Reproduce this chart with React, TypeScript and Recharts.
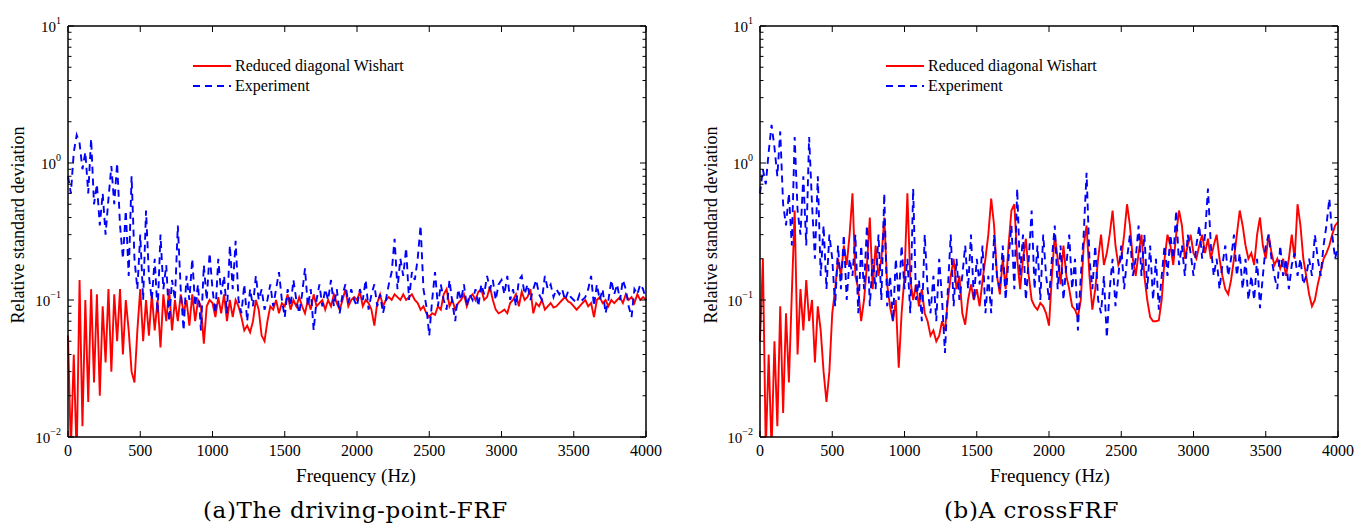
import React from 'react';
import { LineChart, Line, XAxis, YAxis, Legend } from 'recharts';

// samples every 20 Hz, 0..4000 Hz (10 values per row = 200 Hz)
const FREQ_STEP_HZ = 20;

// (a) driving-point FRF
const drivingWishart = [
  0.055, 0.008, 0.04, 0.007, 0.14, 0.012, 0.1, 0.018, 0.12, 0.025,
  0.11, 0.02, 0.09, 0.035, 0.12, 0.03, 0.11, 0.05, 0.12, 0.04,
  0.1, 0.06, 0.03, 0.025, 0.06, 0.12, 0.05, 0.1, 0.055, 0.11,
  0.06, 0.1, 0.045, 0.11, 0.07, 0.12, 0.06, 0.1, 0.07, 0.11,
  0.08, 0.1, 0.065, 0.11, 0.07, 0.1, 0.09, 0.048, 0.09, 0.1,
  0.095, 0.075, 0.105, 0.08, 0.11, 0.07, 0.1, 0.075, 0.1, 0.09,
  0.075, 0.06, 0.065, 0.058, 0.07, 0.1, 0.085, 0.055, 0.05, 0.07,
  0.09, 0.085, 0.1, 0.08, 0.095, 0.09, 0.11, 0.085, 0.1, 0.09,
  0.105, 0.09, 0.08, 0.1, 0.085, 0.11, 0.09, 0.095, 0.1, 0.085,
  0.1, 0.09, 0.11, 0.095, 0.085, 0.1, 0.12, 0.09, 0.1, 0.105,
  0.1, 0.115, 0.09, 0.1, 0.095, 0.085, 0.065, 0.095, 0.11, 0.09,
  0.1, 0.105, 0.1, 0.11, 0.105, 0.1, 0.11, 0.1, 0.105, 0.11,
  0.1, 0.095, 0.085, 0.09, 0.08, 0.075, 0.08, 0.078, 0.09, 0.085,
  0.11, 0.12, 0.09, 0.1, 0.085, 0.095, 0.1, 0.11, 0.09, 0.105,
  0.11, 0.1, 0.115, 0.12, 0.1, 0.105, 0.125, 0.1, 0.085, 0.08,
  0.082, 0.085, 0.08, 0.095, 0.1, 0.11, 0.09, 0.115, 0.1, 0.105,
  0.12, 0.08, 0.095, 0.09, 0.1, 0.085, 0.09, 0.095, 0.088, 0.09,
  0.095, 0.1, 0.105, 0.098, 0.095, 0.09, 0.085, 0.09, 0.095, 0.1,
  0.09, 0.095, 0.075, 0.1, 0.105, 0.095, 0.1, 0.09, 0.1, 0.095,
  0.1, 0.105, 0.095, 0.11, 0.1, 0.105, 0.095, 0.11, 0.1, 0.105,
  0.1,
];
const drivingExperiment = [
  0.8, 0.6, 1.2, 1.6, 1.4, 0.9, 1.2, 0.6, 1.5, 0.5,
  0.7, 0.35, 0.6, 0.3, 0.55, 0.95, 0.5, 1.0, 0.35, 0.2,
  0.45, 0.15, 0.8, 0.2, 0.12, 0.3, 0.1, 0.45, 0.15, 0.1,
  0.2, 0.08, 0.3, 0.12, 0.18, 0.07, 0.14, 0.1, 0.35, 0.12,
  0.06, 0.15, 0.1, 0.2, 0.09, 0.13, 0.06, 0.18, 0.1, 0.22,
  0.12, 0.08, 0.2, 0.11, 0.15, 0.08, 0.25, 0.12, 0.27, 0.1,
  0.08, 0.13, 0.07, 0.12, 0.09, 0.15, 0.1, 0.12, 0.085, 0.1,
  0.13, 0.09, 0.12, 0.16, 0.1, 0.075, 0.12, 0.09, 0.14, 0.1,
  0.08, 0.11, 0.17, 0.09, 0.12, 0.06, 0.1, 0.13, 0.09, 0.12,
  0.1, 0.14, 0.09, 0.12, 0.08, 0.11, 0.13, 0.095, 0.12, 0.1,
  0.09, 0.12, 0.1, 0.14, 0.085, 0.11, 0.13, 0.09, 0.11, 0.08,
  0.1, 0.13, 0.16, 0.28, 0.12, 0.2, 0.15, 0.24, 0.1, 0.16,
  0.14, 0.2, 0.35, 0.12, 0.09, 0.055, 0.1, 0.16, 0.09, 0.13,
  0.1, 0.085, 0.14, 0.095, 0.07, 0.12, 0.1, 0.13, 0.09, 0.11,
  0.1, 0.12, 0.09, 0.13, 0.11, 0.15, 0.12, 0.14, 0.1, 0.13,
  0.14, 0.11, 0.15, 0.1, 0.12, 0.09, 0.14, 0.15, 0.11, 0.13,
  0.1, 0.12, 0.14, 0.11, 0.1, 0.15, 0.12, 0.13, 0.105, 0.12,
  0.11, 0.12, 0.1, 0.115, 0.105, 0.1, 0.095, 0.11, 0.1, 0.105,
  0.12, 0.15, 0.09, 0.13, 0.1, 0.12, 0.08, 0.1, 0.14, 0.11,
  0.13, 0.1, 0.14, 0.12, 0.09, 0.075, 0.12, 0.11, 0.13, 0.12,
  0.1,
];

// (b) a cross FRF
const crossWishart = [
  0.05, 0.2, 0.008, 0.04, 0.008, 0.05, 0.012, 0.09, 0.015, 0.08,
  0.025, 0.11, 0.45, 0.04, 0.12, 0.06, 0.14, 0.07, 0.1, 0.035,
  0.09, 0.06, 0.03, 0.018, 0.03, 0.08, 0.12, 0.2, 0.15, 0.25,
  0.18, 0.3, 0.6, 0.15, 0.12, 0.07, 0.1, 0.18, 0.4, 0.12,
  0.25, 0.15, 0.2, 0.4, 0.13, 0.09, 0.07, 0.1, 0.032, 0.08,
  0.15, 0.6, 0.14, 0.1, 0.13, 0.09, 0.12, 0.08, 0.07, 0.055,
  0.06, 0.05, 0.055, 0.07, 0.06, 0.1, 0.15, 0.2, 0.12, 0.15,
  0.08, 0.066, 0.1, 0.13, 0.1, 0.12, 0.09, 0.14, 0.2, 0.3,
  0.55, 0.35, 0.15, 0.11, 0.2, 0.12, 0.25, 0.45, 0.5, 0.2,
  0.12, 0.2, 0.28, 0.15, 0.1, 0.09, 0.085, 0.095, 0.09, 0.08,
  0.065, 0.15, 0.3, 0.2, 0.13, 0.25, 0.15, 0.12, 0.09, 0.085,
  0.075, 0.1, 0.25, 0.35, 0.15, 0.085, 0.12, 0.2, 0.3, 0.18,
  0.22, 0.3, 0.45, 0.25, 0.18, 0.2, 0.3, 0.5, 0.35, 0.2,
  0.15, 0.22, 0.3, 0.15, 0.1, 0.075, 0.07, 0.07, 0.071, 0.1,
  0.2, 0.3, 0.25, 0.18, 0.3, 0.45, 0.35, 0.2, 0.25, 0.3,
  0.22, 0.2, 0.25, 0.3, 0.22, 0.28, 0.2, 0.25, 0.3, 0.2,
  0.15, 0.12, 0.11, 0.14, 0.2, 0.3, 0.45, 0.35, 0.25, 0.2,
  0.22, 0.18, 0.3, 0.4, 0.25, 0.2, 0.3, 0.22, 0.18, 0.2,
  0.17, 0.2, 0.15, 0.2, 0.3, 0.2, 0.5, 0.35, 0.2, 0.15,
  0.11, 0.09, 0.1, 0.13, 0.16, 0.2, 0.22, 0.25, 0.3, 0.35,
  0.37,
];
const crossExperiment = [
  0.6, 0.9, 0.7, 1.2, 1.9, 1.3, 0.8, 1.7, 0.5, 0.35,
  0.6, 0.25, 1.55, 0.45, 0.3, 0.8, 0.25, 1.55, 0.5, 0.2,
  0.8, 0.15, 0.35, 0.12, 0.3, 0.2, 0.09, 0.25, 0.12, 0.3,
  0.1, 0.2, 0.15, 0.3, 0.08, 0.25, 0.12, 0.35, 0.09, 0.2,
  0.12, 0.3, 0.1, 0.6, 0.09, 0.15, 0.07, 0.2, 0.1, 0.25,
  0.12, 0.2, 0.08, 0.65, 0.1, 0.14, 0.07, 0.3, 0.12, 0.08,
  0.15, 0.07, 0.2, 0.1, 0.041, 0.12, 0.3, 0.09, 0.2, 0.1,
  0.15, 0.25, 0.12, 0.3, 0.1, 0.2, 0.13, 0.25, 0.08, 0.15,
  0.08, 0.3, 0.15, 0.12, 0.25, 0.1, 0.2, 0.35, 0.12, 0.65,
  0.15, 0.3, 0.1, 0.2, 0.45, 0.12, 0.25, 0.1, 0.3, 0.15,
  0.1, 0.2, 0.35, 0.12, 0.25, 0.1, 0.18, 0.3, 0.12, 0.2,
  0.06, 0.15, 0.3, 0.85, 0.2, 0.12, 0.25, 0.1, 0.08, 0.15,
  0.053, 0.12, 0.2, 0.09, 0.15, 0.25, 0.12, 0.2, 0.3, 0.15,
  0.2, 0.35, 0.15, 0.3, 0.12, 0.25, 0.1, 0.2, 0.085, 0.15,
  0.25, 0.15, 0.3, 0.2, 0.45, 0.18, 0.25, 0.15, 0.3, 0.22,
  0.15, 0.25, 0.35, 0.2, 0.3, 0.65, 0.25, 0.15, 0.2, 0.12,
  0.18, 0.25, 0.15, 0.2, 0.3, 0.15, 0.22, 0.12, 0.2, 0.1,
  0.15, 0.1, 0.2, 0.087, 0.15, 0.25, 0.3, 0.2, 0.15, 0.12,
  0.25, 0.15, 0.2, 0.12, 0.18, 0.22, 0.15, 0.2, 0.13, 0.15,
  0.2, 0.15, 0.3, 0.2, 0.15, 0.25, 0.35, 0.55, 0.3, 0.2,
  0.25,
];

const freqTicks = [0, 500, 1000, 1500, 2000, 2500, 3000, 3500, 4000];
const decadeTicks = [0.01, 0.1, 1, 10];
const decadeExponents = ['\u22122', '\u22121', '0', '1'];
const minorTicks = [
  0.02, 0.03, 0.04, 0.05, 0.06, 0.07, 0.08, 0.09,
  0.2, 0.3, 0.4, 0.5, 0.6, 0.7, 0.8, 0.9,
  2, 3, 4, 5, 6, 7, 8, 9,
];
const yTicks = [...decadeTicks, ...minorTicks].sort((a, b) => a - b);

const SERIF = '"Liberation Serif", "Times New Roman", serif';
const TICK_GAP = 6;

const series = [
  { key: 'wishart', name: 'Reduced diagonal Wishart', color: '#ff0000', dash: undefined, width: 1.9 },
  { key: 'experiment', name: 'Experiment', color: '#0000ff', dash: '7 5', width: 1.9 },
];

const toRows = (wishart: number[], experiment: number[]) =>
  wishart.map((v, i) => ({ freq: i * FREQ_STEP_HZ, wishart: v, experiment: experiment[i] }));

const decadeIndex = (v: number) => decadeTicks.findIndex((d) => Math.abs(d - v) < 1e-9);

const LeftTick = (props: any) => {
  const { x, y, payload } = props;
  const edge = x + TICK_GAP;
  const idx = decadeIndex(payload.value);
  return (
    <g>
      <line x1={edge} x2={edge + (idx >= 0 ? 6 : 3.5)} y1={y} y2={y} stroke="#000" strokeWidth={1} />
      {idx >= 0 && (
        <text x={edge - 7} y={y} dy={5.5} textAnchor="end" fontFamily={SERIF} fontSize={15} fill="#000">
          10<tspan dy={-8} fontSize={10}>{decadeExponents[idx]}</tspan>
        </text>
      )}
    </g>
  );
};

const RightTick = (props: any) => {
  const { x, y, payload } = props;
  const edge = x - TICK_GAP;
  const len = decadeIndex(payload.value) >= 0 ? 6 : 3.5;
  return <line x1={edge} x2={edge - len} y1={y} y2={y} stroke="#000" strokeWidth={1} />;
};

const BottomTick = (props: any) => {
  const { x, y, payload } = props;
  const edge = y - TICK_GAP;
  return (
    <g>
      <line x1={x} x2={x} y1={edge} y2={edge - 6} stroke="#000" strokeWidth={1} />
      <text x={x} y={edge + 7} dy={11.5} textAnchor="middle" fontFamily={SERIF} fontSize={16} fill="#000">
        {payload.value}
      </text>
    </g>
  );
};

const TopTick = (props: any) => {
  const { x, y } = props;
  const edge = y + TICK_GAP;
  return <line x1={x} x2={x} y1={edge} y2={edge + 6} stroke="#000" strokeWidth={1} />;
};

const LegendBox = () => (
  <div style={{ fontFamily: SERIF, fontSize: 16, color: '#000' }}>
    {series.map((s) => (
      <div key={s.key} style={{ display: 'flex', alignItems: 'center', height: 20, whiteSpace: 'nowrap' }}>
        <svg width={42} height={20}>
          <line x1={0} x2={38} y1={10} y2={10} stroke={s.color} strokeWidth={2} strokeDasharray={s.dash} />
        </svg>
        <span>{s.name}</span>
      </div>
    ))}
  </div>
);

interface PanelProps {
  wishart: number[];
  experiment: number[];
  width: number;
  marginLeft: number;
  marginRight: number;
  legendLeft: number;
}

const Panel: React.FC<PanelProps> = ({ wishart, experiment, width, marginLeft, marginRight, legendLeft }) => {
  const rows = toRows(wishart, experiment);
  const axisLine = { stroke: '#000', strokeWidth: 1.5 };
  return (
    <LineChart
      width={width}
      height={525}
      data={rows}
      margin={{ top: 25, right: marginRight, left: marginLeft, bottom: 58 }}
    >
      <XAxis
        xAxisId="b"
        type="number"
        dataKey="freq"
        domain={[0, 4000]}
        ticks={freqTicks}
        interval={0}
        height={30}
        tickSize={0}
        tickMargin={TICK_GAP}
        tickLine={false}
        axisLine={axisLine}
        tick={<BottomTick />}
      />
      <XAxis
        xAxisId="t"
        orientation="top"
        type="number"
        dataKey="freq"
        domain={[0, 4000]}
        ticks={freqTicks}
        interval={0}
        height={1}
        tickSize={0}
        tickMargin={TICK_GAP}
        tickLine={false}
        axisLine={axisLine}
        tick={<TopTick />}
      />
      <YAxis
        yAxisId="l"
        scale="log"
        domain={[0.01, 10]}
        allowDataOverflow
        ticks={yTicks}
        interval={0}
        width={60}
        tickSize={0}
        tickMargin={TICK_GAP}
        tickLine={false}
        axisLine={axisLine}
        tick={<LeftTick />}
      />
      <YAxis
        yAxisId="r"
        orientation="right"
        scale="log"
        domain={[0.01, 10]}
        allowDataOverflow
        ticks={yTicks}
        interval={0}
        width={1}
        tickSize={0}
        tickMargin={TICK_GAP}
        tickLine={false}
        axisLine={axisLine}
        tick={<RightTick />}
      />
      <Legend
        layout="vertical"
        align="center"
        verticalAlign="middle"
        content={<LegendBox />}
        wrapperStyle={{ left: legendLeft, top: 56, width: 'auto', height: 'auto' }}
      />
      {series.map((s) => (
        <Line
          key={s.key}
          xAxisId="b"
          yAxisId="l"
          type="linear"
          dataKey={s.key}
          name={s.name}
          stroke={s.color}
          strokeWidth={s.width}
          strokeDasharray={s.dash}
          dot={false}
          activeDot={false}
          isAnimationActive={false}
        />
      ))}
    </LineChart>
  );
};

const textStyle: React.CSSProperties = { position: 'absolute', fontFamily: SERIF, color: '#000', whiteSpace: 'nowrap' };

const App: React.FC = () => (
  <div style={{ position: 'absolute', left: 0, top: 0, width: 1365, height: 525, background: '#fff', overflow: 'hidden' }}>
    <div style={{ position: 'absolute', left: 0, top: 0 }}>
      <Panel wishart={drivingWishart} experiment={drivingExperiment} width={683} marginLeft={8} marginRight={36} legendLeft={193} />
    </div>
    <div style={{ position: 'absolute', left: 683, top: 0 }}>
      <Panel wishart={crossWishart} experiment={crossExperiment} width={682} marginLeft={17} marginRight={26} legendLeft={203} />
    </div>

    <div style={{ ...textStyle, left: 18, top: 225, fontSize: 18, lineHeight: '18px', transform: 'translate(-50%, -50%) rotate(-90deg)' }}>
      Relative standard deviation
    </div>
    <div style={{ ...textStyle, left: 711, top: 225, fontSize: 18, lineHeight: '18px', transform: 'translate(-50%, -50%) rotate(-90deg)' }}>
      Relative standard deviation
    </div>
    <div style={{ ...textStyle, left: 356, top: 466, fontSize: 19, lineHeight: '19px', transform: 'translateX(-50%)' }}>
      Frequency (Hz)
    </div>
    <div style={{ ...textStyle, left: 1050, top: 466, fontSize: 19, lineHeight: '19px', transform: 'translateX(-50%)' }}>
      Frequency (Hz)
    </div>
    <div style={{ ...textStyle, left: 203, top: 499, fontFamily: '"DejaVu Serif", serif', fontSize: 23, lineHeight: '23px', letterSpacing: 0.6 }}>
      (a)The driving-point-FRF
    </div>
    <div style={{ ...textStyle, left: 944, top: 499, fontFamily: '"DejaVu Serif", serif', fontSize: 23, lineHeight: '23px', letterSpacing: 0.6 }}>
      (b)A crossFRF
    </div>
  </div>
);

export default App;
